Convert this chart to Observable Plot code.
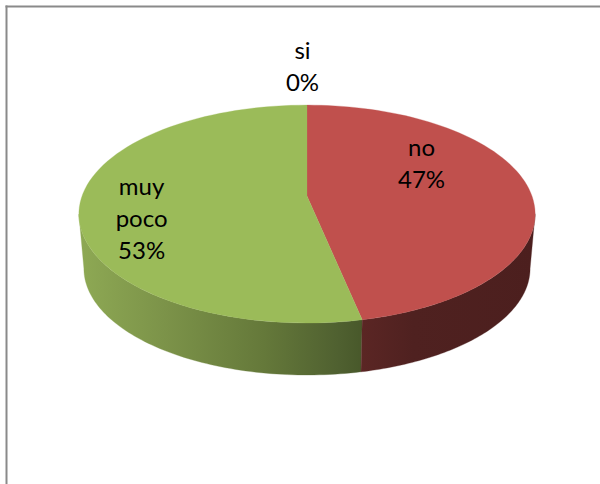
<!DOCTYPE html>
<html>
<head>
<meta charset="utf-8">
<script src="https://cdn.jsdelivr.net/npm/d3@7"></script>
<script src="https://cdn.jsdelivr.net/npm/@observablehq/plot@0.6"></script>
<style>html,body{margin:0;padding:0;background:#fff}svg{display:block}</style>
</head>
<body>
<div id="chart"></div>
<script>
const categories = ["si", "no", "muy poco"];
const shares = [0, 46.7, 53.3];
const topColors = ["#f79646", "#c0504d", "#9bbb59"];
const labelLines = [["si"], ["no"], ["muy", "poco"]];
const labelSpots = [[-0.02, -1.238], [0.509, -0.328], [-0.735, 0.198]];

// Tilted-disc projection: a unit circle seen in perspective
const tilt = -0.165;
const depth = 0.517;
const shrink = 0.978;
const project = (deg) => {
  const t = deg * Math.PI / 180, u = Math.sin(t), v = -Math.cos(t), w = 1 + tilt * v;
  return {x: u / w, y: v / w};
};
const lower = (p) => ({x: p.x * shrink, y: p.y * shrink + depth});
const arc = (a, b) => d3.range(0, 81).map(i => project(a + (b - a) * i / 80));

const total = d3.sum(shares);
let running = 0;
const spans = shares.map(s => { const a = running; running += s / total * 360; return [a, running]; });

const face = ([a, b]) => [{x: 0, y: 0}, ...arc(a, b), {x: 0, y: 0}];
const wall = (a, b) => { const top = arc(a, b); return [...top, ...top.map(lower).reverse(), top[0]]; };
const silhouette = [99.5, 260.5];
const redWall = wall(Math.max(spans[1][0], silhouette[0]), Math.min(spans[1][1], silhouette[1]));
const greenWall = wall(Math.max(spans[2][0], silhouette[0]), Math.min(spans[2][1], silhouette[1]));

const gradients = () => {
  const defs = d3.create("svg:defs");
  const add = (id, stops) => {
    const g = defs.append("linearGradient").attr("id", id).attr("x1", 0).attr("x2", 1).attr("y1", 0).attr("y2", 0);
    stops.forEach(([o, c]) => g.append("stop").attr("offset", o).attr("stop-color", c));
  };
  add("wallGreen", [[0, "#8ea954"], [0.3, "#7c9349"], [0.65, "#65793a"], [0.92, "#4f6030"], [1, "#48582a"]]);
  add("wallRed", [[0, "#5b2624"], [0.3, "#4f2120"], [1, "#4c1f1e"]]);
  return defs.node();
};

const labels = categories.map((c, i) => ({
  text: [...labelLines[i], Math.round(shares[i]) + "%"].join("\n"),
  x: labelSpots[i][0],
  y: labelSpots[i][1]
}));

const line = (pts, fill) => Plot.line(pts, {x: "x", y: "y", fill, stroke: fill, strokeWidth: 0.3});

const chart = Plot.plot({
  width: 600,
  height: 484,
  marginTop: 6,
  marginLeft: 6,
  marginRight: 0,
  marginBottom: 0,
  x: {domain: [-1.3622, 1.3045], range: [0, 600], axis: null},
  y: {domain: [-1.845, 2.721], range: [0, 484], axis: null},
  style: {background: "#fff"},
  marks: [
    gradients,
    Plot.frame({anchor: "top", stroke: "#8a8a8a", strokeWidth: 2}),
    Plot.frame({anchor: "left", stroke: "#8a8a8a", strokeWidth: 2}),
    line(greenWall, "url(#wallGreen)"),
    line(redWall, "url(#wallRed)"),
    line(face(spans[1]), topColors[1]),
    line(face(spans[2]), topColors[2]),
    Plot.text(labels, {
      x: "x", y: "y", text: "text",
      lineHeight: 1.333, fontSize: 24, fontFamily: "Lato", fill: "#000"
    })
  ]
});
document.getElementById("chart").append(chart);
</script>
</body>
</html>
